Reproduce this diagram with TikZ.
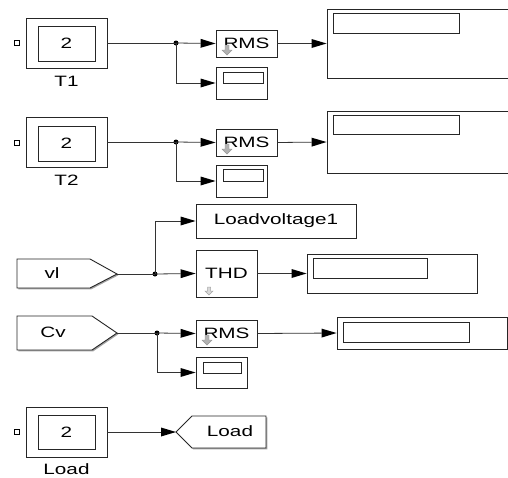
\documentclass[tikz,border=0pt]{standalone}
\usepackage{fontspec}
\setmainfont{Liberation Sans}[FakeStretch=1.38]
\usetikzlibrary{arrows.meta,shadows,calc}
\tikzset{
  blk/.style={draw=black!85, line width=0.9pt, fill=white, inner sep=0pt,
    drop shadow={shadow xshift=1.3pt, shadow yshift=-1.3pt, fill=black!45, opacity=0.8}},
  inr/.style={draw=black!85, line width=0.9pt, fill=white, inner sep=0pt},
  wire/.style={draw=black!80, line width=0.8pt},
  arr/.style={wire, -{Triangle[length=15pt,width=9pt,fill=black,line width=0pt]}},
  dot/.style={circle, fill=black, inner sep=0pt, minimum size=5pt},
  port/.style={draw=black, line width=1.8pt, fill=white, inner sep=0pt, minimum size=5pt},
  lbl/.style={inner sep=0pt, font=\fontsize{15}{18}\selectfont},
  gar/.style={fill=black!30, draw=black!40, line width=0.4pt},
}
\begin{document}
\begin{tikzpicture}[x=1pt,y=-1pt]
\useasboundingbox (0,0) rectangle (508,477);
\clip (0,0) rectangle (508,477);
\fill[white] (0,0) rectangle (508,477);

% ---------- Row 1: T1 ----------
\node[port] (p1) at (17,43) {};
\node[blk, minimum width=81pt, minimum height=50pt] (T1) at (66.5,43) {};
\node[inr, minimum width=57pt, minimum height=35pt] (T1i) at (66.5,44) {};
\node[lbl] (T1n) at (66.5,43.5) {2};
\node[lbl] (T1l) at (66.5,81) {T1};
\node[blk, minimum width=61pt, minimum height=27pt] (R1) at (246.5,43.5) {};
\node[lbl] (R1t) at (246.5,43.5) {RMS};
\node[blk, minimum width=51pt, minimum height=32pt] (S1) at (241.5,83) {};
\node[inr, minimum width=40pt, minimum height=11pt] (S1i) at (243,77.5) {};
\node[blk, minimum width=190pt, minimum height=69pt] (D1) at (422,43.5) {};
\node[inr, minimum width=126pt, minimum height=20pt] (D1i) at (396,23) {};
\node[dot] (J1) at (176,43) {};
\draw[wire] (T1.east) -- (J1.center);
\draw[arr] (J1.center) -- (R1.west);
\draw[arr] (J1.center) |- (S1.west);
\draw[arr] (R1.east) -- (D1.west);
\draw[gar] (225,45) -- (229,45) -- (229,50) -- (232,50) -- (227,55) -- (222,50) -- (225,50) -- cycle;

% ---------- Row 2: T2 ----------
\node[port] (p2) at (17,143) {};
\node[blk, minimum width=81pt, minimum height=50pt] (T2) at (66.5,142) {};
\node[inr, minimum width=57pt, minimum height=35pt] (T2i) at (66.5,143.5) {};
\node[lbl] (T2n) at (66.5,143) {2};
\node[lbl] (T2l) at (66.5,180) {T2};
\node[blk, minimum width=61pt, minimum height=27pt] (R2) at (246.5,142.5) {};
\node[lbl] (R2t) at (246.5,142.5) {RMS};
\node[blk, minimum width=51pt, minimum height=32pt] (S2) at (241.5,181) {};
\node[inr, minimum width=40pt, minimum height=12pt] (S2i) at (243,175.5) {};
\node[blk, minimum width=190pt, minimum height=62pt] (D2) at (422,142) {};
\node[inr, minimum width=126pt, minimum height=19pt] (D2i) at (396,124.5) {};
\node[dot] (J2) at (176,142) {};
\draw[wire] (T2.east) -- (J2.center);
\draw[arr] (J2.center) -- (R2.west);
\draw[arr] (J2.center) |- (S2.west);
\draw[arr] (R2.east) -- (D2.west);
\draw[gar] (225,144) -- (229,144) -- (229,149) -- (232,149) -- (227,154) -- (222,149) -- (225,149) -- cycle;

% ---------- Row 3: vl ----------
\draw[blk] (17,259) -- (90,259) -- (117,274) -- (90,288) -- (17,288) -- cycle;
\coordinate (vlo) at (117,274);
\node[lbl] (vlt) at (52,273) {vl};
\node[blk, minimum width=160pt, minimum height=34pt] (LV) at (276,221) {};
\node[lbl] (LVt) at (276,221) {Loadvoltage1};
\node[blk, minimum width=61pt, minimum height=47pt] (TH) at (226.5,273.5) {};
\node[lbl] (THt) at (226.5,273.5) {THD};
\node[blk, minimum width=170pt, minimum height=39pt] (D3) at (392,273.5) {};
\node[inr, minimum width=114pt, minimum height=20pt] (D3i) at (370,268) {};
\node[dot] (J3) at (155,274) {};
\draw[wire] (vlo) -- (J3.center);
\draw[arr] (J3.center) -- (TH.west);
\draw[arr] (J3.center) |- (LV.west);
\draw[arr] (TH.east) -- (D3.west);
\draw[fill=black!15, draw=black!35, line width=0.5pt] (207.5,287) -- (210.5,287) -- (210.5,291) -- (213,291) -- (209,295) -- (205,291) -- (207.5,291) -- cycle;

% ---------- Row 4: Cv ----------
\draw[blk] (17,316) -- (92,316) -- (117,333) -- (92,350) -- (17,350) -- cycle;
\coordinate (cvo) at (117,333);
\node[lbl] (cvt) at (53,332) {Cv};
\node[blk, minimum width=61pt, minimum height=27pt] (R4) at (226.5,333.5) {};
\node[lbl] (R4t) at (226.5,333.5) {RMS};
\node[blk, minimum width=51pt, minimum height=31pt] (S4) at (221.5,372.5) {};
\node[inr, minimum width=38pt, minimum height=11pt] (S4i) at (222,367.5) {};
\node[blk, minimum width=170pt, minimum height=32pt] (D4) at (422,333) {};
\node[inr, minimum width=126pt, minimum height=20pt] (D4i) at (406,332) {};
\node[dot] (J4) at (157,333) {};
\draw[wire] (cvo) -- (J4.center);
\draw[arr] (J4.center) -- (R4.west);
\draw[arr] (J4.center) |- (S4.west);
\draw[arr] (R4.east) -- (D4.west);
\draw[gar] (205,335) -- (209,335) -- (209,340) -- (212,340) -- (207,345) -- (202,340) -- (205,340) -- cycle;

% ---------- Row 5: Load ----------
\node[port] (p5) at (17,432) {};
\node[blk, minimum width=81pt, minimum height=50pt] (L5) at (66.5,432) {};
\node[inr, minimum width=57pt, minimum height=34pt] (L5i) at (66.5,432) {};
\node[lbl] (L5n) at (66.5,432) {2};
\node[lbl] (L5l) at (66.5,469) {Load};
\draw[blk] (176,432) -- (192,416) -- (266,416) -- (266,448) -- (192,448) -- cycle;
\coordinate (gtin) at (176,432);
\node[lbl] (gtt) at (230,431) {Load};
\draw[arr] (L5.east) -- (gtin);
\end{tikzpicture}
\end{document}
